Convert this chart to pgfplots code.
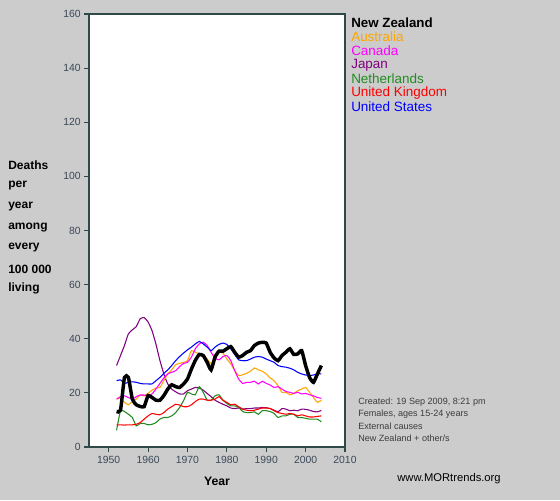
\documentclass[border=0pt]{standalone}
\usepackage{pgfplots}
\pgfplotsset{compat=1.18}
\usepackage{pgfplotstable}
\usepackage{fontspec}
\setmainfont{Liberation Sans}

\definecolor{bgray}{RGB}{204,204,204}
\definecolor{axcol}{RGB}{47,72,72}
\definecolor{tkcol}{RGB}{58,72,88}
\definecolor{cnz}{RGB}{0,0,0}
\definecolor{cau}{RGB}{255,165,0}
\definecolor{cca}{RGB}{255,0,255}
\definecolor{cjp}{RGB}{128,0,128}
\definecolor{cnl}{RGB}{34,139,34}
\definecolor{cuk}{RGB}{255,0,0}
\definecolor{cus}{RGB}{0,0,255}
\definecolor{notecol}{RGB}{60,60,60}

% deaths per 100 000, females 15-24, external causes
\pgfplotstableread{
year nz   au   ca   jp   nl   uk   us
1952 13.1 17.7 17.7 30.1 6.2  8.2  24.5
1953 13.6 18.0 18.6 33.8 13.4 8.2  24.8
1954 25.7 16.5 18.9 37.5 13.1 8.1  23.5
1955 25.7 15.6 18.3 41.8 12.1 8.2  23.9
1956 17.7 16.8 17.7 43.3 10.9 8.2  24.1
1957 15.6 17.7 18.6 44.5 7.8  8.4  23.9
1958 15.0 19.2 19.2 47.4 8.7  9.0  23.5
1959 14.9 18.9 19.2 47.8 8.7  10.3 23.3
1960 19.0 19.8 18.9 46.2 8.2  11.5 23.3
1961 18.3 21.0 19.6 43.0 8.4  12.4 23.3
1962 17.3 21.8 21.4 38.0 9.0  12.1 24.5
1963 17.3 22.0 23.5 32.0 10.3 11.9 25.7
1964 19.0 24.5 25.5 27.0 10.9 12.7 27.2
1965 21.4 27.0 27.0 23.3 10.9 14.0 28.5
1966 23.0 28.5 27.6 21.4 11.5 14.9 30.1
1967 22.3 30.4 28.2 20.4 12.7 15.8 31.9
1968 22.0 30.9 29.7 19.6 14.6 15.5 33.4
1969 23.3 31.3 30.9 19.6 17.1 14.9 34.7
1970 25.1 31.9 31.3 20.8 20.2 14.9 35.9
1971 28.8 35.6 33.2 21.4 19.6 15.6 36.9
1972 32.0 35.0 36.3 22.0 19.3 16.8 38.1
1973 34.2 34.4 38.1 21.8 22.3 17.7 39.0
1974 33.8 33.8 38.7 21.0 20.2 17.7 38.1
1975 31.3 32.5 37.5 19.8 17.3 17.3 36.9
1976 28.5 30.9 35.0 18.6 17.3 17.3 35.6
1977 33.2 33.2 32.9 17.3 18.9 17.7 36.9
1978 35.4 35.0 32.2 16.5 19.3 18.6 37.9
1979 35.4 34.7 33.4 15.8 17.3 17.3 38.4
1980 36.3 32.5 33.8 15.2 16.1 16.5 37.9
1981 37.1 30.7 31.9 14.4 15.2 15.6 36.3
1982 35.0 28.2 28.2 14.2 15.2 15.8 34.2
1983 33.2 26.4 25.1 14.4 14.6 14.9 32.2
1984 33.8 26.7 23.5 14.0 13.1 14.0 31.9
1985 35.0 27.2 23.9 14.2 12.7 13.6 31.9
1986 35.6 28.0 23.9 14.2 12.7 13.4 32.5
1987 37.5 29.2 24.3 14.4 13.0 13.6 33.2
1988 38.4 28.5 23.3 14.4 12.1 14.0 33.4
1989 38.7 28.0 24.3 14.6 13.4 14.4 33.2
1990 38.4 27.0 23.5 14.5 13.4 14.4 32.5
1991 35.0 25.5 22.9 14.2 13.1 14.2 31.9
1992 32.9 24.5 22.0 13.6 12.4 13.4 31.3
1993 31.9 22.6 22.3 13.0 10.9 12.7 30.1
1994 33.8 20.2 21.4 14.2 11.5 12.4 29.7
1995 35.0 20.2 20.5 14.0 11.5 12.1 29.5
1996 36.3 19.3 20.2 13.4 12.1 12.4 29.1
1997 34.2 19.8 19.8 13.6 12.1 12.1 28.5
1998 34.4 20.8 20.2 13.4 10.9 11.5 27.6
1999 35.6 21.4 19.6 14.0 10.9 11.9 27.0
2000 30.1 22.0 19.8 13.9 10.6 11.5 26.6
2001 25.7 20.2 19.3 13.6 10.3 11.1 26.4
2002 23.9 18.3 18.9 13.1 10.3 11.1 26.6
2003 27.0 16.5 18.3 13.0 10.3 11.3 27.0
2004 30.1 17.3 18.0 13.5 9.3  11.5 27.0
}\mort

\begin{document}
\begin{tikzpicture}[x=0.75pt,y=0.75pt]
% whole canvas is 560 x 500 px, y measured from bottom
\fill[bgray] (0,0) rectangle (560,500);

\begin{axis}[
  at={(66.75pt,39.75pt)}, anchor=south west,
  scale only axis, width=192pt, height=324.75pt,
  xmin=1945, xmax=2010, ymin=0, ymax=160,
  xtick={1950,1960,...,2010}, ytick={0,20,...,160},
  tick pos=left, tick align=outside, major tick length=3.75pt,
  axis line style={axcol, line width=1pt},
  every tick/.style={axcol, line width=0.8pt},
  axis background/.style={fill=white},
  ticklabel style={font=\fontsize{7.8}{9}\selectfont, text=tkcol},
  yticklabel style={xshift=1pt},
  /pgf/number format/assume math mode=true,
  /pgf/number format/1000 sep={},
  xlabel={\bfseries Year}, xlabel style={font=\fontsize{9.2}{10}\selectfont, yshift=-3pt},
  every axis plot/.append style={line width=0.8pt, smooth, tension=0.3},
]
\addplot[cjp] table[x=year,y=jp] {\mort};
\addplot[cau] table[x=year,y=au] {\mort};
\addplot[cca] table[x=year,y=ca] {\mort};
\addplot[cnl] table[x=year,y=nl] {\mort};
\addplot[cuk] table[x=year,y=uk] {\mort};
\addplot[cus] table[x=year,y=us] {\mort};
\addplot[cnz, line width=2.6pt] table[x=year,y=nz] {\mort};
\end{axis}

% y label, one word per line
\begin{scope}[every node/.style={anchor=west, font=\fontsize{9}{10}\selectfont\bfseries, inner sep=0pt}]
\node at (8,500-165) {Deaths};
\node at (8,500-186) {per};
\node at (8,500-207) {year};
\node at (8,500-228) {among};
\node at (8,500-248) {every};
\node at (8,500-269) {100 000};
\node at (8,500-288) {living};
\end{scope}

% legend
\begin{scope}[every node/.style={anchor=west, font=\fontsize{10.1}{11}\selectfont, inner sep=0pt}]
\node[text=cnz, font=\fontsize{10}{11}\selectfont\bfseries] at (351,500-23) {New Zealand};
\node[text=cau] at (351,500-37) {Australia};
\node[text=cca] at (351,500-51) {Canada};
\node[text=cjp] at (351,500-65) {Japan};
\node[text=cnl] at (351,500-79) {Netherlands};
\node[text=cuk] at (351,500-93) {United Kingdom};
\node[text=cus] at (351,500-107) {United States};
\end{scope}

% notes
\begin{scope}[every node/.style={anchor=west, font=\fontsize{6.8}{8}\selectfont, text=notecol, inner sep=0pt}]
\node at (358,500-402) {Created: 19 Sep 2009, 8:21 pm};
\node at (358,500-414) {Females, ages 15-24 years};
\node at (358,500-426) {External causes};
\node at (358,500-438) {New Zealand + other/s};
\end{scope}
\node[font=\fontsize{8.4}{9}\selectfont, inner sep=0pt] at (449,500-479) {www.MORtrends.org};

\pgfresetboundingbox
\path (0,0) rectangle (560,500);
\end{tikzpicture}
\end{document}
